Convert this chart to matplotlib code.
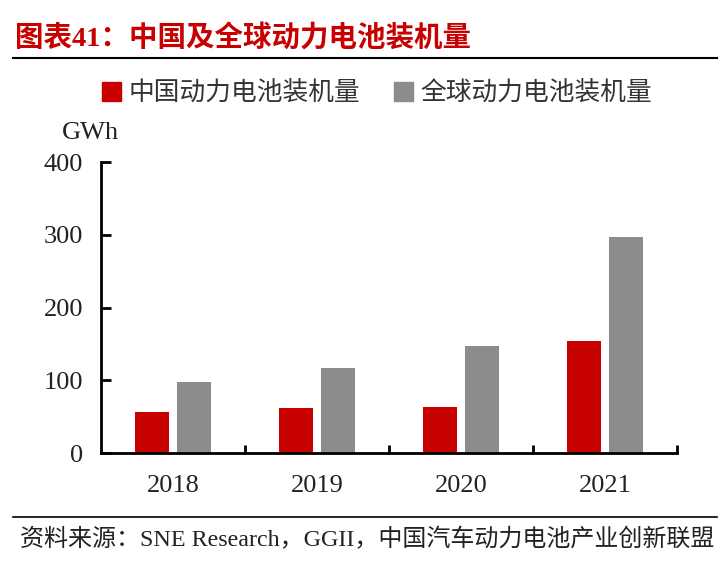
import matplotlib
matplotlib.use("Agg")
import matplotlib.pyplot as plt
from matplotlib.lines import Line2D
from matplotlib.patches import Patch
import numpy as np

years = ["2018", "2019", "2020", "2021"]
china = [56.9, 62.2, 63.6, 154.5]
world = [98.0, 116.6, 147.2, 297.0]
series_names = ["中国动力电池装机量", "全球动力电池装机量"]
title = "图表41：中国及全球动力电池装机量"
source = "资料来源：SNE Research，GGII，中国汽车动力电池产业创新联盟"
unit = "GWh"

FAM = ["Liberation Serif", "Noto Sans CJK SC", "DejaVu Sans"]
plt.rcParams["font.family"] = FAM

RED = "#C80000"
GRAY = "#8C8C8C"

fig = plt.figure(figsize=(7.27, 5.67), dpi=100)
ax = fig.add_axes([101/727, 1-453/567, 576/727, (453-162.3)/567])

x = np.arange(len(years))
w = 0.236
off = 0.143
ax.bar(x - off, china, width=w, color=RED, zorder=2)
ax.bar(x + off, world, width=w, color=GRAY, zorder=2)

ax.set_xlim(-0.5, 3.5)
ax.set_ylim(0, 400)
ax.set_yticks([0, 100, 200, 300, 400])
ax.set_xticks(x)
ax.set_xticklabels(years)
ax.set_xticks(np.arange(0.5, 4.0, 1.0), minor=True)
ax.tick_params(axis="x", which="major", length=0, pad=16, labelsize=19, labelcolor="#222222")
ax.tick_params(axis="x", which="minor", direction="in", length=6, width=2, color="black")
ax.tick_params(axis="y", direction="in", length=7, width=2, pad=13, labelsize=19, labelcolor="#222222")
for s in ["top", "right"]:
    ax.spines[s].set_visible(False)
for s in ["left", "bottom"]:
    ax.spines[s].set_linewidth(2)

fig.text(62/727, 1-133/567, unit, fontsize=19, color="#222222", va="center", ha="left")

# title
fig.text(15/727, 1-38/567, title, fontsize=20.5, fontweight="bold", color=RED,
         va="center", ha="left")
fig.add_artist(Line2D([13/727, 717/727], [1-58/567, 1-58/567], color="black", lw=1.5))

# legend
handles = [Patch(facecolor=RED, edgecolor=RED), Patch(facecolor=GRAY, edgecolor=GRAY)]
fig.legend(handles, series_names, loc="center", bbox_to_anchor=(377/727, 1-93/567),
           ncol=2, frameon=False, fontsize=18.5, handlelength=0.75, handleheight=0.75,
           handletextpad=0.3, columnspacing=1.3, labelcolor="#333333")

# footer
fig.add_artist(Line2D([13/727, 717/727], [1-517/567, 1-517/567], color="black", lw=1.2))
fig.text(20/727, 1-540/567, source, fontsize=17.3, color="#222222", va="center", ha="left")

fig.savefig("out.png", dpi=100)
